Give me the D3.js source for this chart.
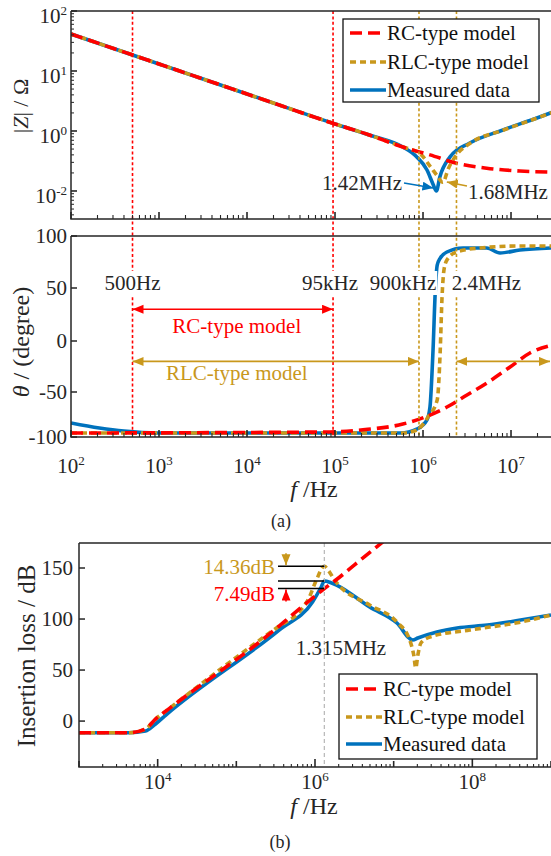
<!DOCTYPE html>
<html>
<head>
<meta charset="utf-8">
<script src="https://cdn.jsdelivr.net/npm/d3@7"></script>
<style>
  html, body { margin: 0; padding: 0; background: #fff; }
  svg, svg text, svg tspan { font-family: "Liberation Serif", "DejaVu Serif", serif; }
</style>
</head>
<body>
<svg id="chart" width="551" height="856" font-family="Liberation Serif, DejaVu Serif, serif"></svg>
<script>
// ---------------- data ----------------
// impedance magnitude |Z| (ohm) vs frequency (Hz)
const zMeasured = [[1e2,41.4],[1e3,13.1],[1e4,4.14],[1e5,1.31],[2.5e5,0.85],[5.9e5,0.54],[8.5e5,0.37],[1.11e6,0.224],[1.3e6,0.13],[1.42e6,0.1],[1.55e6,0.17],[2.03e6,0.37],[3.4e6,0.63],[8.1e6,1.04],[1.97e7,1.65],[3e7,2.07]];
const zRLC = [[1e2,41.4],[1e3,13.1],[1e4,4.14],[1e5,1.31],[2.5e5,0.85],[5.9e5,0.54],[9.25e5,0.42],[1.2e6,0.26],[1.45e6,0.18],[1.68e6,0.14],[1.95e6,0.24],[2.4e6,0.40],[3.4e6,0.62],[8.1e6,1.03],[1.97e7,1.64],[3e7,2.06]];
const zRC = [[1e2,41.4],[1e3,13.1],[1e4,4.14],[1e5,1.31],[2.5e5,0.85],[5.9e5,0.54],[7.7e5,0.48],[1.2e6,0.40],[2.4e6,0.29],[5.3e6,0.24],[1.26e7,0.215],[3e7,0.207]];

// impedance phase (degree)
const phMeasured = [[1e2,-84.4],[2.1e2,-90],[4e2,-93.5],[1e3,-95.6],[5.5e5,-95.6],[8.6e5,-91],[1.11e6,-81],[1.2e6,-66.7],[1.3e6,-8.8],[1.38e6,48],[1.45e6,72],[1.57e6,78.8],[1.87e6,84.6],[2.85e6,88.5],[5.3e6,88.5],[7.5e6,83.7],[1.26e7,86.5],[3e7,88.5]];
const phRLC = [[1e2,-95.6],[6e5,-95.6],[8.6e5,-92],[1.14e6,-77.8],[1.45e6,-58.9],[1.57e6,-8.8],[1.64e6,38.7],[1.73e6,67.3],[1.87e6,76.9],[2.4e6,84.6],[4.45e6,88.5],[1.26e7,90.4],[3e7,90.4]];
const phRC = [[1e2,-95.6],[8.7e4,-94.4],[2.08e5,-92],[5.9e5,-85.6],[1.2e6,-75.6],[1.87e6,-66.7],[3.16e6,-53.3],[5.3e6,-41.2],[9.75e6,-25.5],[1.64e7,-11.8],[3e7,-3.9]];

// insertion loss (dB)
const lossMeasured = [[1e3,-11.5],[4.3e3,-11.5],[7e3,-9.8],[9.4e3,-2.9],[1.27e4,5.9],[3.5e5,89.2],[9.3e5,116.7],[1.2e6,131.4],[1.315e6,137.3],[1.6e6,135.5],[1.88e6,133.3],[4.95e6,111.8],[1.1e7,96.1],[1.75e7,79.4],[2.03e7,81.4],[3.55e7,87.3],[6.4e7,91.2],[1.55e8,94.1],[4.1e8,99],[1e9,103.9]];
const lossRLC = [[1e3,-11.5],[4.3e3,-11.5],[7e3,-7.8],[9.4e3,2],[1.27e4,9.8],[3.5e5,93.1],[6.3e5,106.9],[8.5e5,121.6],[1.04e6,138.2],[1.315e6,151.66],[1.53e6,146],[1.77e6,138.2],[2.05e6,132.4],[4.95e6,113.7],[1.1e7,97],[1.6e7,79.4],[1.8e7,64.7],[1.91e7,52],[2.03e7,64.7],[2.22e7,76.5],[2.9e7,82.4],[9.3e7,89.2],[4.1e8,97],[1e9,103.9]];
const lossRC = [[1e3,-11.5],[4.3e3,-11.5],[7e3,-7.8],[9.4e3,2],[1.27e4,9.8],[3.5e5,93.1],[4.7e5,101.5],[7.76e5,115.5],[1.315e6,129.81],[1.88e6,138.7],[3.18e6,153.1],[6.08e6,170.7],[1.2e7,189.1]];

// fitting-range markers
const markerFreqs = [500, 95e3, 9e5, 2.4e6];
const markerLabels = ["500Hz", "95kHz", "900kHz", "2.4MHz"];
const markerModel = ["RC", "RC", "RLC", "RLC"];

// resonance annotations
const resMeasured = 1.42e6, resRLC = 1.68e6;
const peakFreq = 1.315e6;
const peakMeasured = 137.3;
const rlcExcess = 14.36;
const rcDeficit = 7.49;

// axis ticks
const zTickValues = [100, 10, 1, 0.1];
const zTickExponents = ["2", "1", "0", "-2"];
const phaseTicks = [100, 50, 0, -50, -100];
const lossTicks = [150, 100, 50, 0];
const freqTicksA = [1e2, 1e3, 1e4, 1e5, 1e6, 1e7];
const freqTicksB = [1e4, 1e6, 1e8];

const seriesNames = ["RC-type model", "RLC-type model", "Measured data"];

// ---------------- styles ----------------
const FONT = "Liberation Serif, DejaVu Serif, serif";
const RED = "#FF0000", GOLD = "#C9981C", BLUE = "#0072BD", AX = "#262626", TXT = "#262626";
const style = {
  RC:  { color: RED,  dash: "12,6" },
  RLC: { color: GOLD, dash: "6,4" },
  M:   { color: BLUE, dash: null }
};

// ---------------- scales ----------------
const xA = d3.scaleLog().domain([1e2, 3e7]).range([71, 553]);
const yZ = d3.scaleLog().domain([Math.pow(10, -1.467), 100]).range([219, 11]);
const yPh = d3.scaleLinear().domain([-100, -50, 0, 50, 100]).range([437, 392, 341, 288, 236]);
const xB = d3.scaleLog().domain([1e3, 1e9]).range([79, 551]);
const yIL = d3.scaleLinear().domain([-45, 174.5]).range([767, 543]);

const svg = d3.select("#chart");
const defs = svg.append("defs");

function txt(x, y, s, size, color, anchor) {
  return svg.append("text").attr("x", x).attr("y", y)
    .attr("font-family", FONT).attr("font-size", size)
    .attr("fill", color || TXT).attr("text-anchor", anchor || "start")
    .text(s);
}

function clip(id, x0, y0, x1, y1) {
  defs.append("clipPath").attr("id", id).append("rect")
    .attr("x", x0).attr("y", y0).attr("width", x1 - x0).attr("height", y1 - y0);
}
clip("cA1", 71, 11, 551, 219);
clip("cA2", 71, 236, 551, 437);
clip("cB", 79, 543, 551, 767);

function arrowMarker(id, color) {
  defs.append("marker").attr("id", id)
    .attr("markerUnits", "userSpaceOnUse")
    .attr("markerWidth", 12).attr("markerHeight", 10)
    .attr("refX", 11).attr("refY", 4.5)
    .attr("orient", "auto-start-reverse")
    .append("path").attr("d", "M0,0L11,4.5L0,9Z").attr("fill", color);
}
arrowMarker("arRed", RED);
arrowMarker("arGold", GOLD);
arrowMarker("arBlue", BLUE);

// ---------------- helpers ----------------
function drawCurve(g, data, x, y, st, clipId) {
  const line = d3.line().x(d => x(d[0])).y(d => y(d[1])).curve(d3.curveMonotoneX);
  const p = g.append("path").attr("d", line(data))
    .attr("fill", "none").attr("stroke", st.color).attr("stroke-width", 3.6)
    .attr("stroke-linejoin", "round")
    .attr("clip-path", `url(#${clipId})`);
  if (st.dash) p.attr("stroke-dasharray", st.dash);
}

function supText(sel, base, exp, size) {
  sel.append("tspan").text(base);
  sel.append("tspan").attr("dy", -size * 0.38).attr("font-size", size * 0.62).text(exp);
}

function frame(x0, x1, y0, y1) {
  svg.append("path")
    .attr("d", `M${x0},${y0}H${x1}M${x0},${y0}V${y1}H${x1}`)
    .attr("fill", "none").attr("stroke", AX).attr("stroke-width", 1.5);
}

// log x ticks pointing up into the plot
function logXTicks(x, yBase, labelled, majorLen, decadeLen, minorLen) {
  const [d0, d1] = x.domain();
  const g = svg.append("g").attr("stroke", AX);
  for (let k = Math.floor(Math.log10(d0)); k <= Math.ceil(Math.log10(d1)); k++) {
    for (let m = 1; m <= 9; m++) {
      const v = m * Math.pow(10, k);
      if (v < d0 * 0.999 || v > d1 * 1.001) continue;
      let len = minorLen;
      if (m === 1) len = labelled.some(t => Math.abs(t / v - 1) < 1e-6) ? majorLen : decadeLen;
      const px = x(v);
      g.append("line").attr("x1", px).attr("x2", px).attr("y1", yBase).attr("y2", yBase - len)
        .attr("stroke-width", m === 1 ? 1.6 : 1.1);
    }
  }
}

function logYTicks(y, xBase, majors, majorLen, minorLen) {
  const [d0, d1] = y.domain();
  const g = svg.append("g").attr("stroke", AX);
  for (let k = Math.floor(Math.log10(d0)); k <= Math.ceil(Math.log10(d1)); k++) {
    for (let m = 1; m <= 9; m++) {
      const v = m * Math.pow(10, k);
      if (v < d0 || v > d1 * 1.001) continue;
      const isMajor = majors.some(t => Math.abs(t / v - 1) < 1e-6);
      const py = y(v);
      g.append("line").attr("x1", xBase).attr("x2", xBase + (isMajor ? majorLen : minorLen))
        .attr("y1", py).attr("y2", py).attr("stroke-width", isMajor ? 1.6 : 1.0);
    }
  }
}

function linYTicks(y, xBase, ticks, len) {
  svg.append("g").selectAll("line").data(ticks).join("line")
    .attr("x1", xBase).attr("x2", xBase + len)
    .attr("y1", d => y(d)).attr("y2", d => y(d))
    .attr("stroke", AX).attr("stroke-width", 1.5);
}

// ================= panel (a): |Z| =================
const gA1 = svg.append("g");
drawCurve(gA1, zMeasured, xA, yZ, style.M, "cA1");
drawCurve(gA1, zRLC, xA, yZ, style.RLC, "cA1");
drawCurve(gA1, zRC, xA, yZ, style.RC, "cA1");

// ================= panel (a): phase =================
const gA2 = svg.append("g");
drawCurve(gA2, phMeasured, xA, yPh, style.M, "cA2");
drawCurve(gA2, phRLC, xA, yPh, style.RLC, "cA2");
drawCurve(gA2, phRC, xA, yPh, style.RC, "cA2");

// vertical range markers through both upper panels
markerFreqs.forEach((f, i) => {
  svg.append("line")
    .attr("x1", xA(f)).attr("x2", xA(f)).attr("y1", 11).attr("y2", 437)
    .attr("stroke", markerModel[i] === "RC" ? RED : GOLD)
    .attr("stroke-width", 1.6).attr("stroke-dasharray", "3,2.4");
});

// marker labels with white backing
const labelDx = [0, -3, -16, 30];
markerFreqs.forEach((f, i) => {
  const t = txt(xA(f) + labelDx[i], 290, markerLabels[i], 21, TXT, "middle");
  const b = t.node().getBBox();
  svg.insert("rect", () => t.node())
    .attr("x", b.x - 1).attr("y", b.y).attr("width", b.width + 2).attr("height", b.height)
    .attr("fill", "#fff");
});

// fitting range arrows
const yRCArrow = yPh(30), yRLCArrow = yPh(-20);
svg.append("line").attr("x1", xA(markerFreqs[0])).attr("x2", xA(markerFreqs[1]))
  .attr("y1", yRCArrow).attr("y2", yRCArrow)
  .attr("stroke", RED).attr("stroke-width", 1.6)
  .attr("marker-start", "url(#arRed)").attr("marker-end", "url(#arRed)");
svg.append("line").attr("x1", xA(markerFreqs[0])).attr("x2", xA(markerFreqs[2]))
  .attr("y1", yRLCArrow).attr("y2", yRLCArrow)
  .attr("stroke", GOLD).attr("stroke-width", 1.6)
  .attr("marker-start", "url(#arGold)").attr("marker-end", "url(#arGold)");
svg.append("line").attr("x1", xA(markerFreqs[3])).attr("x2", 550)
  .attr("y1", yRLCArrow).attr("y2", yRLCArrow)
  .attr("stroke", GOLD).attr("stroke-width", 1.6)
  .attr("marker-start", "url(#arGold)").attr("marker-end", "url(#arGold)");
const rangeLabelX = (xA(markerFreqs[0]) + xA(markerFreqs[1])) / 2 + 4;
txt(rangeLabelX, 333, "RC-type model", 21, RED, "middle");
txt(rangeLabelX, 380, "RLC-type model", 21, GOLD, "middle");

// resonance annotations
txt(402, 190, "1.42MHz", 21, TXT, "end");
svg.append("line").attr("x1", 404).attr("y1", 183)
  .attr("x2", xA(resMeasured) - 3).attr("y2", 188)
  .attr("stroke", BLUE).attr("stroke-width", 1.6).attr("marker-end", "url(#arBlue)");
txt(468, 199, "1.68MHz", 21, TXT, "start");
svg.append("line").attr("x1", 467).attr("y1", 186)
  .attr("x2", xA(resRLC) + 4).attr("y2", 182)
  .attr("stroke", GOLD).attr("stroke-width", 1.6).attr("marker-end", "url(#arGold)");

// frames and ticks (upper panels)
frame(71, 551, 11, 219);
frame(71, 551, 236, 437);
logXTicks(xA, 219, freqTicksA, 7, 7, 4);
logXTicks(xA, 437, freqTicksA, 7, 7, 4);
logYTicks(yZ, 71, zTickValues, 6, 3);
linYTicks(yPh, 71, phaseTicks, 6);

// tick labels
zTickValues.forEach((v, i) => {
  const t = txt(67, yZ(v) + 12, null, 21, TXT, "end");
  supText(t, "10", zTickExponents[i], 21);
});
phaseTicks.forEach(v => txt(67, yPh(v) + 7, String(v), 21, TXT, "end"));
freqTicksA.forEach(v => {
  const t = txt(xA(v), 473, null, 21, TXT, "middle");
  supText(t, "10", String(Math.round(Math.log10(v))), 21);
});

// axis titles (a)
const tZ = svg.append("text").attr("transform", "translate(28,106) rotate(-90)")
  .attr("font-family", FONT).attr("text-anchor", "middle").attr("font-size", 22).attr("fill", TXT);
tZ.append("tspan").text("|");
tZ.append("tspan").attr("font-style", "italic").text("Z");
tZ.append("tspan").text("| / Ω");
const tPh = svg.append("text").attr("transform", "translate(29,342) rotate(-90)")
  .attr("font-family", FONT).attr("text-anchor", "middle").attr("font-size", 24).attr("fill", TXT);
tPh.append("tspan").attr("font-style", "italic").text("θ");
tPh.append("tspan").text(" / (degree)");
const tFa = txt(314, 497, null, 24, TXT, "middle");
tFa.append("tspan").attr("font-style", "italic").text("f");
tFa.append("tspan").text(" /Hz");
txt(281, 527, "(a)", 18, TXT, "middle");

// legend box
function legend(x0, y0, x1, y1, rows) {
  svg.append("rect").attr("x", x0).attr("y", y0).attr("width", x1 - x0).attr("height", y1 - y0)
    .attr("fill", "#fff").attr("stroke", "#111").attr("stroke-width", 1.3);
  const keys = ["RC", "RLC", "M"];
  rows.forEach((ry, i) => {
    const st = style[keys[i]];
    const l = svg.append("line").attr("x1", x0 + 7).attr("x2", x0 + 43).attr("y1", ry).attr("y2", ry)
      .attr("stroke", st.color).attr("stroke-width", 3.6);
    if (st.dash) l.attr("stroke-dasharray", st.dash);
    txt(x0 + 44, ry + 7, seriesNames[i], 21, "#111", "start");
  });
}
legend(343, 19, 539, 102, [33, 62, 90]);

// ================= panel (b): insertion loss =================
const gB = svg.append("g");
svg.append("line").attr("x1", xB(peakFreq)).attr("x2", xB(peakFreq)).attr("y1", 543).attr("y2", 767)
  .attr("stroke", "#BBBBBB").attr("stroke-width", 1.3).attr("stroke-dasharray", "4,3");
drawCurve(gB, lossMeasured, xB, yIL, style.M, "cB");
drawCurve(gB, lossRLC, xB, yIL, style.RLC, "cB");
drawCurve(gB, lossRC, xB, yIL, style.RC, "cB");

// peak deviation annotation
const peakLevels = [peakMeasured + rlcExcess, peakMeasured, peakMeasured - rcDeficit];
peakLevels.forEach(v => {
  svg.append("line").attr("x1", 278).attr("x2", xB(peakFreq)).attr("y1", yIL(v)).attr("y2", yIL(v))
    .attr("stroke", "#000").attr("stroke-width", 1.5);
});
svg.append("line").attr("x1", 286).attr("x2", 286)
  .attr("y1", yIL(peakLevels[0]) - 13).attr("y2", yIL(peakLevels[0]) - 1)
  .attr("stroke", GOLD).attr("stroke-width", 1.6).attr("marker-end", "url(#arGold)");
svg.append("line").attr("x1", 286).attr("x2", 286)
  .attr("y1", yIL(peakLevels[2]) + 13).attr("y2", yIL(peakLevels[2]) + 1)
  .attr("stroke", RED).attr("stroke-width", 1.6).attr("marker-end", "url(#arRed)");
txt(275, 574, rlcExcess.toFixed(2) + "dB", 21, GOLD, "end");
txt(275, 601, rcDeficit.toFixed(2) + "dB", 21, RED, "end");
txt(341, 655, "1.315MHz", 21, TXT, "middle");

frame(79, 551, 543, 767);
logXTicks(xB, 767, freqTicksB, 8, 6, 3);
linYTicks(yIL, 79, lossTicks, 6);
lossTicks.forEach(v => txt(73, yIL(v) + 7, String(v), 21, TXT, "end"));
freqTicksB.forEach(v => {
  const t = txt(xB(v), 789, null, 21, TXT, "middle");
  supText(t, "10", String(Math.round(Math.log10(v))), 21);
});
svg.append("text").attr("transform", "translate(35,656) rotate(-90)")
  .attr("font-family", FONT).attr("text-anchor", "middle").attr("font-size", 25).attr("fill", TXT)
  .text("Insertion loss / dB");
const tFb = txt(314, 814, null, 24, TXT, "middle");
tFb.append("tspan").attr("font-style", "italic").text("f");
tFb.append("tspan").text(" /Hz");
txt(280, 848, "(b)", 18, TXT, "middle");

legend(339, 674, 537, 759, [689, 717, 744]);
</script>
</body>
</html>
